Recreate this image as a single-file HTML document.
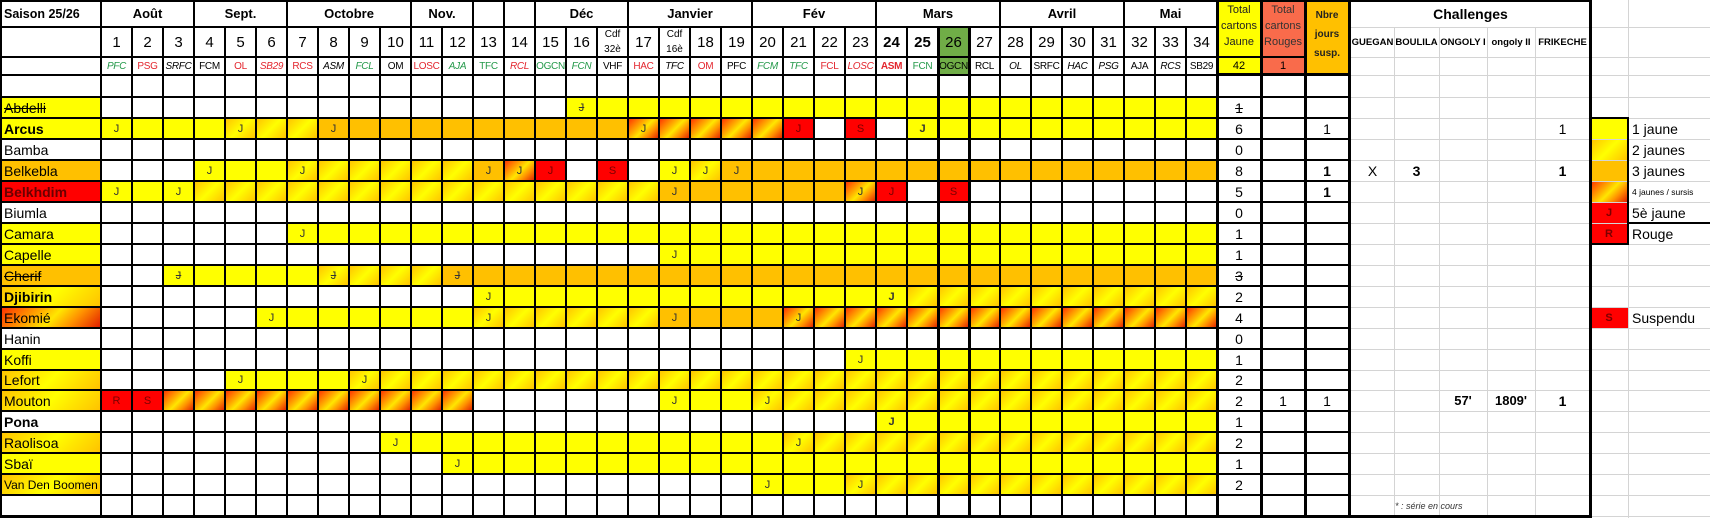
<!DOCTYPE html>
<html><head><meta charset="utf-8">
<style>
body{margin:0;background:#fff}
#c{position:relative;width:1710px;height:518px;overflow:hidden;background:#fff;font-family:"Liberation Sans",Arial,sans-serif;color:#000}
.a{position:absolute}
.row{position:absolute;left:0;width:1710px}
.row i{position:absolute;top:0;height:100%}
.row span,.hd span{position:absolute;top:0;height:100%;display:flex;align-items:center;justify-content:center;white-space:nowrap}
.y{background:#ffff00}.o{background:#ffc000}.r{background:#ff0000}
.g2{background:linear-gradient(135deg,#ffc000 0%,#ffff00 50%,#ffc000 100%) 0 0/31px 100%}
.g4{background:linear-gradient(135deg,#ff2a00 0%,#ffb000 38%,#ffe600 52%,#ff9000 72%,#e01800 100%) 0 0/31px 100%}
.nb{background-size:100% 100%!important}
.nm{left:4px;font-size:14px;justify-content:flex-start!important}
.j{width:31px;font-size:11px;color:#333}
.jr{width:31px;font-size:11px;color:#7a0000}
.s{text-decoration:line-through}
.tt{left:1217px;width:44px;font-size:14px}
.tr{left:1261px;width:44px;font-size:14px}
.tn{left:1305px;width:44px;font-size:14px}
.bd{font-weight:bold}
.lg{left:1632px;font-size:14px;justify-content:flex-start!important}
.v{position:absolute;width:2px;background:#000}
.h{position:absolute;height:2px;background:#000;left:0}
.lv{position:absolute;width:1px;background:#d4d4d4}
.lh{position:absolute;height:1px;background:#d4d4d4;left:1351px;width:359px}
.hd{position:absolute;left:0;width:1710px}
.n{width:31px;font-size:15px}
.tm{width:31px;font-size:10px;letter-spacing:-0.3px}
.gr{color:#24994a}.rd{color:#e3262e}.it{font-style:italic}
.mo{font-size:13px;font-weight:bold}
</style></head><body><div id="c">

<!-- header backgrounds -->
<div class="a y" style="left:1217px;top:0;width:44px;height:75px"></div>
<div class="a" style="left:1261px;top:0;width:44px;height:75px;background:#f96b4b"></div>
<div class="a o" style="left:1305px;top:0;width:44px;height:75px"></div>
<div class="a" style="left:938px;top:27px;width:31px;height:48px;background:#70ad47"></div>

<!-- header row 0 -->
<div class="hd" style="top:0;height:27px">
<span style="left:4px;font-size:12.5px;font-weight:bold">Saison 25/26</span>
<span class="mo" style="left:101px;width:93px">Août</span>
<span class="mo" style="left:194px;width:93px">Sept.</span>
<span class="mo" style="left:287px;width:124px">Octobre</span>
<span class="mo" style="left:411px;width:62px">Nov.</span>
<span class="mo" style="left:535px;width:93px">Déc</span>
<span class="mo" style="left:628px;width:124px">Janvier</span>
<span class="mo" style="left:752px;width:124px">Fév</span>
<span class="mo" style="left:876px;width:124px">Mars</span>
<span class="mo" style="left:1000px;width:124px">Avril</span>
<span class="mo" style="left:1124px;width:93px">Mai</span>
<span style="left:1351px;width:239px;font-size:14px;font-weight:bold">Challenges</span>
</div>
<div class="a" style="left:1217px;top:2px;width:44px;text-align:center;font-size:11px;line-height:16px;color:#222">Total<br>cartons<br>Jaune</div>
<div class="a" style="left:1261px;top:2px;width:44px;text-align:center;font-size:11px;line-height:16px;color:#333">Total<br>cartons<br>Rouges</div>
<div class="a" style="left:1305px;top:6px;width:44px;text-align:center;font-size:10px;line-height:19px;font-weight:bold;color:#222">Nbre<br>jours<br>susp.</div>

<!-- numbers row -->
<div class="hd" style="top:27px;height:30px">
<span class="n" style="left:101px">1</span><span class="n" style="left:132px">2</span><span class="n" style="left:163px">3</span><span class="n" style="left:194px">4</span><span class="n" style="left:225px">5</span><span class="n" style="left:256px">6</span><span class="n" style="left:287px">7</span><span class="n" style="left:318px">8</span><span class="n" style="left:349px">9</span><span class="n" style="left:380px">10</span><span class="n" style="left:411px">11</span><span class="n" style="left:442px">12</span><span class="n" style="left:473px">13</span><span class="n" style="left:504px">14</span><span class="n" style="left:535px">15</span><span class="n" style="left:566px">16</span>
<span style="left:597px;width:31px;font-size:10px;line-height:15px;text-align:center">Cdf<br>32è</span>
<span class="n" style="left:628px">17</span>
<span style="left:659px;width:31px;font-size:10px;line-height:15px;text-align:center">Cdf<br>16è</span>
<span class="n" style="left:690px">18</span><span class="n" style="left:721px">19</span><span class="n" style="left:752px">20</span><span class="n" style="left:783px">21</span><span class="n" style="left:814px">22</span><span class="n" style="left:845px">23</span><span class="n bd" style="left:876px">24</span><span class="n bd" style="left:907px">25</span><span class="n" style="left:938px">26</span><span class="n" style="left:969px">27</span><span class="n" style="left:1000px">28</span><span class="n" style="left:1031px">29</span><span class="n" style="left:1062px">30</span><span class="n" style="left:1093px">31</span><span class="n" style="left:1124px">32</span><span class="n" style="left:1155px">33</span><span class="n" style="left:1186px">34</span>
<span class="bd" style="left:1351px;width:43px;font-size:9.5px">GUEGAN</span>
<span class="bd" style="left:1394px;width:45px;font-size:9.5px">BOULILA</span>
<span class="bd" style="left:1439px;width:48px;font-size:9.5px">ONGOLY I</span>
<span class="bd" style="left:1487px;width:48px;font-size:9.5px">ongoly II</span>
<span class="bd" style="left:1535px;width:55px;font-size:9.5px">FRIKECHE</span>
</div>

<!-- teams row -->
<div class="hd" style="top:57px;height:18px">
<span class="tm gr it" style="left:101px">PFC</span><span class="tm rd" style="left:132px">PSG</span><span class="tm it" style="left:163px">SRFC</span><span class="tm" style="left:194px">FCM</span><span class="tm rd" style="left:225px">OL</span><span class="tm rd it" style="left:256px">SB29</span><span class="tm rd" style="left:287px">RCS</span><span class="tm it" style="left:318px">ASM</span><span class="tm gr it" style="left:349px">FCL</span><span class="tm" style="left:380px">OM</span><span class="tm rd" style="left:411px">LOSC</span><span class="tm gr it" style="left:442px">AJA</span><span class="tm gr" style="left:473px">TFC</span><span class="tm rd it" style="left:504px">RCL</span><span class="tm gr" style="left:535px">OGCN</span><span class="tm gr it" style="left:566px">FCN</span><span class="tm" style="left:597px">VHF</span><span class="tm rd" style="left:628px">HAC</span><span class="tm it" style="left:659px">TFC</span><span class="tm rd" style="left:690px">OM</span><span class="tm" style="left:721px">PFC</span><span class="tm gr it" style="left:752px">FCM</span><span class="tm gr it" style="left:783px">TFC</span><span class="tm rd" style="left:814px">FCL</span><span class="tm rd it" style="left:845px">LOSC</span><span class="tm rd bd" style="left:876px">ASM</span><span class="tm gr" style="left:907px">FCN</span><span class="tm" style="left:938px">OGCN</span><span class="tm" style="left:969px">RCL</span><span class="tm it" style="left:1000px">OL</span><span class="tm" style="left:1031px">SRFC</span><span class="tm it" style="left:1062px">HAC</span><span class="tm it" style="left:1093px">PSG</span><span class="tm" style="left:1124px">AJA</span><span class="tm it" style="left:1155px">RCS</span><span class="tm" style="left:1186px">SB29</span>
<span style="left:1217px;width:44px;font-size:11px">42</span>
<span style="left:1261px;width:44px;font-size:11px">1</span>
</div>

<!-- player rows -->
<div class="row" style="top:97px;height:21px">
<i class="y" style="left:0;width:101px"></i><span class="nm s">Abdelli</span>
<i class="y" style="left:566px;width:651px"></i>
<span class="j s" style="left:566px">J</span>
<span class="tt s">1</span>
</div>

<div class="row" style="top:118px;height:21px">
<i class="y" style="left:0;width:101px"></i><span class="nm bd">Arcus</span>
<i class="y" style="left:101px;width:124px"></i><i class="g2" style="left:225px;width:93px"></i><i class="o" style="left:318px;width:310px"></i><i class="g4" style="left:628px;width:155px"></i><i class="r" style="left:783px;width:31px"></i><i class="r" style="left:845px;width:31px"></i><i class="y" style="left:907px;width:310px"></i>
<span class="j" style="left:101px">J</span><span class="j" style="left:225px">J</span><span class="j" style="left:318px">J</span><span class="j" style="left:628px">J</span><span class="jr" style="left:783px">J</span><span class="jr" style="left:845px">S</span><span class="j bd" style="left:907px">J</span>
<span class="tt">6</span><span class="tn">1</span><span style="left:1535px;width:55px;font-size:14px">1</span>
<i class="y" style="left:1590px;width:38px"></i><span class="lg">1 jaune</span>
</div>

<div class="row" style="top:139px;height:21px">
<span class="nm">Bamba</span>
<span class="tt">0</span>
<i class="g2 nb" style="left:1590px;width:38px"></i><span class="lg">2 jaunes</span>
</div>

<div class="row" style="top:160px;height:21px">
<i class="o" style="left:0;width:101px"></i><span class="nm">Belkebla</span>
<i class="y" style="left:194px;width:93px"></i><i class="g2" style="left:287px;width:186px"></i><i class="o" style="left:473px;width:31px"></i><i class="g4" style="left:504px;width:31px"></i><i class="r" style="left:535px;width:31px"></i><i class="r" style="left:597px;width:31px"></i><i class="y" style="left:659px;width:31px"></i><i class="g2" style="left:690px;width:31px"></i><i class="o" style="left:721px;width:496px"></i>
<span class="j" style="left:194px">J</span><span class="j" style="left:287px">J</span><span class="j" style="left:473px">J</span><span class="j" style="left:504px">J</span><span class="jr" style="left:535px">J</span><span class="jr" style="left:597px">S</span><span class="j" style="left:659px">J</span><span class="j" style="left:690px">J</span><span class="j" style="left:721px">J</span>
<span class="tt">8</span><span class="tn bd">1</span>
<span style="left:1351px;width:43px;font-size:14px">X</span><span class="bd" style="left:1394px;width:45px;font-size:14px">3</span><span class="bd" style="left:1535px;width:55px;font-size:14px">1</span>
<i class="o" style="left:1590px;width:38px"></i><span class="lg">3 jaunes</span>
</div>

<div class="row" style="top:181px;height:21px">
<i class="r" style="left:0;width:101px"></i><span class="nm bd" style="color:#6a0000">Belkhdim</span>
<i class="y" style="left:101px;width:93px"></i><i class="g2" style="left:194px;width:465px"></i><i class="o" style="left:659px;width:186px"></i><i class="g4" style="left:845px;width:31px"></i><i class="r" style="left:876px;width:31px"></i><i class="r" style="left:938px;width:31px"></i>
<span class="j" style="left:101px">J</span><span class="j" style="left:163px">J</span><span class="j" style="left:659px">J</span><span class="j" style="left:845px">J</span><span class="jr" style="left:876px">J</span><span class="jr" style="left:938px">S</span>
<span class="tt">5</span><span class="tn bd">1</span>
<i class="g4 nb" style="left:1590px;width:38px"></i><span class="lg" style="font-size:8.5px">4 jaunes / sursis</span>
</div>

<div class="row" style="top:202px;height:21px">
<span class="nm">Biumla</span>
<span class="tt">0</span>
<i class="r" style="left:1590px;width:38px"></i><span class="jr bd" style="left:1590px;width:38px">J</span><span class="lg">5è jaune</span>
</div>

<div class="row" style="top:223px;height:21px">
<i class="y" style="left:0;width:101px"></i><span class="nm">Camara</span>
<i class="y" style="left:287px;width:930px"></i>
<span class="j" style="left:287px">J</span>
<span class="tt">1</span>
<i class="r" style="left:1590px;width:38px"></i><span class="jr bd" style="left:1590px;width:38px">R</span><span class="lg">Rouge</span>
</div>

<div class="row" style="top:244px;height:21px">
<i class="y" style="left:0;width:101px"></i><span class="nm">Capelle</span>
<i class="y" style="left:659px;width:558px"></i>
<span class="j" style="left:659px">J</span>
<span class="tt">1</span>
</div>

<div class="row" style="top:265px;height:21px">
<i class="o" style="left:0;width:101px"></i><span class="nm s">Cherif</span>
<i class="y" style="left:163px;width:155px"></i><i class="g2" style="left:318px;width:124px"></i><i class="o" style="left:442px;width:775px"></i>
<span class="j s" style="left:163px">J</span><span class="j s" style="left:318px">J</span><span class="j s" style="left:442px">J</span>
<span class="tt s">3</span>
</div>

<div class="row" style="top:286px;height:21px">
<i class="g2 nb" style="left:0;width:101px"></i><span class="nm bd">Djibirin</span>
<i class="y" style="left:473px;width:434px"></i><i class="g2" style="left:907px;width:310px"></i>
<span class="j" style="left:473px">J</span><span class="j bd" style="left:876px">J</span>
<span class="tt">2</span>
</div>

<div class="row" style="top:307px;height:21px">
<i class="g4 nb" style="left:0;width:101px"></i><span class="nm">Ekomié</span>
<i class="y" style="left:256px;width:217px"></i><i class="g2" style="left:473px;width:186px"></i><i class="o" style="left:659px;width:124px"></i><i class="g4" style="left:783px;width:434px"></i>
<span class="j" style="left:256px">J</span><span class="j" style="left:473px">J</span><span class="j" style="left:659px">J</span><span class="j" style="left:783px">J</span>
<span class="tt">4</span>
<i class="r" style="left:1590px;width:38px"></i><span class="jr bd" style="left:1590px;width:38px">S</span><span class="lg">Suspendu</span>
</div>

<div class="row" style="top:328px;height:21px">
<span class="nm">Hanin</span>
<span class="tt">0</span>
</div>

<div class="row" style="top:349px;height:21px">
<i class="y" style="left:0;width:101px"></i><span class="nm">Koffi</span>
<i class="y" style="left:845px;width:372px"></i>
<span class="j" style="left:845px">J</span>
<span class="tt">1</span>
</div>

<div class="row" style="top:370px;height:20px">
<i class="g2 nb" style="left:0;width:101px"></i><span class="nm">Lefort</span>
<i class="y" style="left:225px;width:124px"></i><i class="g2" style="left:349px;width:868px"></i>
<span class="j" style="left:225px">J</span><span class="j" style="left:349px">J</span>
<span class="tt">2</span>
</div>

<div class="row" style="top:390px;height:21px">
<i class="g2 nb" style="left:0;width:101px"></i><span class="nm">Mouton</span>
<i class="r" style="left:101px;width:62px"></i><i class="g4" style="left:163px;width:310px"></i><i class="y" style="left:659px;width:93px"></i><i class="g2" style="left:752px;width:465px"></i>
<span class="jr" style="left:101px">R</span><span class="jr" style="left:132px">S</span><span class="j" style="left:659px">J</span><span class="j" style="left:752px">J</span>
<span class="tt">2</span><span class="tr">1</span><span class="tn">1</span>
<span class="bd" style="left:1439px;width:48px;font-size:13px">57'</span><span class="bd" style="left:1487px;width:48px;font-size:13px">1809'</span><span class="bd" style="left:1535px;width:55px;font-size:14px">1</span>
</div>

<div class="row" style="top:411px;height:21px">
<span class="nm bd">Pona</span>
<i class="y" style="left:876px;width:341px"></i>
<span class="j bd" style="left:876px">J</span>
<span class="tt">1</span>
</div>

<div class="row" style="top:432px;height:21px">
<i class="g2 nb" style="left:0;width:101px"></i><span class="nm">Raolisoa</span>
<i class="y" style="left:380px;width:403px"></i><i class="g2" style="left:783px;width:434px"></i>
<span class="j" style="left:380px">J</span><span class="j" style="left:783px">J</span>
<span class="tt">2</span>
</div>

<div class="row" style="top:453px;height:21px">
<i class="y" style="left:0;width:101px"></i><span class="nm">Sbaï</span>
<i class="y" style="left:442px;width:775px"></i>
<span class="j" style="left:442px">J</span>
<span class="tt">1</span>
</div>

<div class="row" style="top:474px;height:21px">
<i class="g2 nb" style="left:0;width:101px"></i><span class="nm" style="font-size:12px">Van Den Boomen</span>
<i class="y" style="left:752px;width:93px"></i><i class="g2" style="left:845px;width:372px"></i>
<span class="j" style="left:752px">J</span><span class="j" style="left:845px">J</span>
<span class="tt">2</span>
</div>

<div class="row" style="top:495px;height:21px">
<span style="left:1395px;font-size:9px;font-style:italic;color:#333">* : série en cours</span>
</div>

<!-- light grid -->
<div class="lh" style="top:27px"></div><div class="lh" style="top:57px"></div><div class="lh" style="top:75px"></div><div class="lh" style="top:97px"></div><div class="lh" style="top:118px"></div><div class="lh" style="top:139px"></div><div class="lh" style="top:160px"></div><div class="lh" style="top:181px"></div><div class="lh" style="top:202px"></div><div class="lh" style="top:223px"></div><div class="lh" style="top:244px"></div><div class="lh" style="top:265px"></div><div class="lh" style="top:286px"></div><div class="lh" style="top:307px"></div><div class="lh" style="top:328px"></div><div class="lh" style="top:349px"></div><div class="lh" style="top:370px"></div><div class="lh" style="top:390px"></div><div class="lh" style="top:411px"></div><div class="lh" style="top:432px"></div><div class="lh" style="top:453px"></div><div class="lh" style="top:474px"></div><div class="lh" style="top:495px"></div><div class="lh" style="top:516px"></div>
<div class="lv" style="left:1394px;top:27px;height:489px"></div><div class="lv" style="left:1439px;top:27px;height:489px"></div><div class="lv" style="left:1487px;top:27px;height:489px"></div><div class="lv" style="left:1535px;top:27px;height:489px"></div><div class="lv" style="left:1628px;top:0;height:518px"></div>

<!-- black grid -->
<div class="a" style="left:100px;top:27px;width:1119px;height:489px;background:repeating-linear-gradient(to right,#000 0 2px,transparent 2px 31px)"></div>
<div class="v" style="left:100px;top:0;height:27px"></div><div class="v" style="left:193px;top:0;height:27px"></div><div class="v" style="left:286px;top:0;height:27px"></div><div class="v" style="left:410px;top:0;height:27px"></div><div class="v" style="left:472px;top:0;height:27px"></div><div class="v" style="left:503px;top:0;height:27px"></div><div class="v" style="left:534px;top:0;height:27px"></div><div class="v" style="left:627px;top:0;height:27px"></div><div class="v" style="left:751px;top:0;height:27px"></div><div class="v" style="left:875px;top:0;height:27px"></div><div class="v" style="left:999px;top:0;height:27px"></div><div class="v" style="left:1123px;top:0;height:27px"></div>
<div class="h" style="top:26px;width:1217px"></div>
<div class="h" style="top:56px;width:1305px"></div>
<div class="h" style="top:74px;width:1349px"></div>
<div class="a" style="left:1217px;top:73px;width:132px;height:3px;background:#000"></div>
<div class="h" style="top:96px;width:1349px"></div><div class="h" style="top:117px;width:1349px"></div><div class="h" style="top:138px;width:1349px"></div><div class="h" style="top:159px;width:1349px"></div><div class="h" style="top:180px;width:1349px"></div><div class="h" style="top:201px;width:1349px"></div><div class="h" style="top:222px;width:1349px"></div><div class="h" style="top:243px;width:1349px"></div><div class="h" style="top:264px;width:1349px"></div><div class="h" style="top:285px;width:1349px"></div><div class="h" style="top:306px;width:1349px"></div><div class="h" style="top:327px;width:1349px"></div><div class="h" style="top:348px;width:1349px"></div><div class="h" style="top:369px;width:1349px"></div><div class="h" style="top:389px;width:1349px"></div><div class="h" style="top:410px;width:1349px"></div><div class="h" style="top:431px;width:1349px"></div><div class="h" style="top:452px;width:1349px"></div><div class="h" style="top:473px;width:1349px"></div><div class="h" style="top:494px;width:1349px"></div>
<!-- thick -->
<div class="a" style="left:937px;top:27px;width:3px;height:489px;background:#000"></div>
<div class="a" style="left:968px;top:27px;width:3px;height:489px;background:#000"></div>
<div class="a" style="left:1216px;top:0;width:3px;height:516px;background:#000"></div>
<div class="a" style="left:1260px;top:0;width:3px;height:516px;background:#000"></div>
<div class="a" style="left:1304px;top:0;width:3px;height:516px;background:#000"></div>
<div class="a" style="left:1348px;top:0;width:3px;height:516px;background:#000"></div>
<div class="a" style="left:1589px;top:0;width:3px;height:518px;background:#000"></div>
<div class="a" style="left:0;top:0;width:2px;height:518px;background:#000"></div>
<div class="a" style="left:0;top:0;width:1592px;height:2px;background:#000"></div>
<div class="a" style="left:0;top:515px;width:1592px;height:3px;background:#000"></div>
<!-- legend borders -->
<div class="a" style="left:1590px;top:117px;width:39px;height:2px;background:#000"></div>
<div class="a" style="left:1627px;top:117px;width:2px;height:127px;background:#000"></div>
<div class="a" style="left:1590px;top:243px;width:39px;height:2px;background:#000"></div>
<div class="a" style="left:1628px;top:222px;width:82px;height:2px;background:#000"></div>

</div></body></html>
